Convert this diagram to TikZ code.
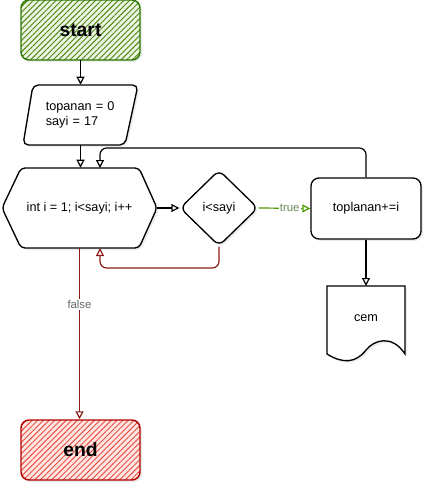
\documentclass[tikz,border=0pt]{standalone}
\usepackage{fontspec}
\setmainfont{Liberation Sans}
\usetikzlibrary{arrows.meta,patterns.meta,shapes.geometric,shadows,calc}
\definecolor{gstroke}{HTML}{2D7600}
\definecolor{gfill}{HTML}{60A917}
\definecolor{rstroke}{HTML}{B20000}
\definecolor{rfill}{HTML}{E51400}
\definecolor{dred}{HTML}{8E1A1A}
\definecolor{tgreen}{HTML}{4D9900}
\tikzset{
  px/.style={x=0.75pt,y=-0.75pt},
  arr/.style={-{Triangle[open,length=6pt,width=6pt]}, line width=0.9pt},
  shad/.style={drop shadow={opacity=0.15,shadow xshift=1.5pt,shadow yshift=-1.5pt}},
  term/.style={rounded corners=6pt, minimum width=89.25pt, minimum height=45pt, line width=1.1pt,
    shad, font=\fontsize{14.5}{17}\selectfont\bfseries},
  txt/.style={font=\fontsize{9.5}{11.5}\selectfont},
  shp/.style={draw, line width=1pt, fill=white, shad},
  lab/.style={fill=white, font=\fontsize{8.5}{10}\selectfont, inner sep=1pt},
}
\begin{document}
\begin{tikzpicture}[px]
\useasboundingbox (0,0) rectangle (431,492);
% start
\node[term, draw=gstroke, preaction={fill=gfill!12},
  pattern={Lines[angle=45,distance=3pt,line width=0.7pt]}, pattern color=gfill!80!black]
  (start) at (80.5,30) {start};
% parallelogram
\draw[shp, rounded corners=4pt] (33,85) -- (138,85) -- (125,145) -- (23,145) -- cycle;
\node[txt, align=left, text width=52pt, minimum height=45pt, inner sep=0pt] (para) at (80.5,115)
  {topanan = 0\\sayi = 17};
% hexagon
\draw[shp, rounded corners=3pt] (2,208) -- (21,168) -- (139,168) -- (157,208) -- (139,248) -- (21,248) -- cycle;
\node[txt, minimum width=116.25pt, minimum height=60pt, inner sep=0pt] (hex) at (79.5,208)
  {int i = 1; i<sayi; i++};
% diamond
\node[shp, diamond, rounded corners=5pt, minimum width=58.5pt, minimum height=57pt, inner sep=0pt, txt]
  (dia) at (219,208) {i<sayi};
% toplanan
\node[shp, rounded corners=6pt, minimum width=82.5pt, minimum height=45.75pt, txt]
  (top) at (366,208.5) {toplanan+=i};
% document
\draw[shp] (327,286) -- (405,286) -- (405,354)
  .. controls (392,334) and (374,340) .. (366,350)
  .. controls (356,363) and (343,364) .. (327,354) -- cycle;
\node[txt, minimum width=58.5pt, minimum height=51pt, inner sep=0pt] (cem) at (366,318) {cem};
% end
\node[term, draw=rstroke, preaction={fill=rfill!10},
  pattern={Lines[angle=45,distance=3pt,line width=0.7pt]}, pattern color=rfill!75]
  (end) at (80.5,450) {end};
% connectors
\coordinate (hin) at (100,168);
\coordinate (hout) at (100,248);
\coordinate (cemtop) at (366,286);
\draw[arr] (start.south) -- (para.north);
\draw[arr] (para.south) -- (para.south |- hex.north);
\draw[arr] (hex.east) -- (dia.west);
\draw[arr, tgreen] (dia.east) -- node[lab, pos=0.6, text=gray!70!tgreen]{true} (top.west);
\draw[arr] (top.south) -- (cemtop);
\draw[arr, rounded corners=5pt] (top.north) |- ([yshift=15pt]hin) -- (hin);
\draw[arr, dred, rounded corners=5pt] (dia.south) |- ([yshift=-15pt]hout) -- (hout);
\draw[arr, dred] (hex.south) -- node[lab, pos=0.33, text=gray!80!black]{false} (hex.south |- end.north);
\end{tikzpicture}
\end{document}
